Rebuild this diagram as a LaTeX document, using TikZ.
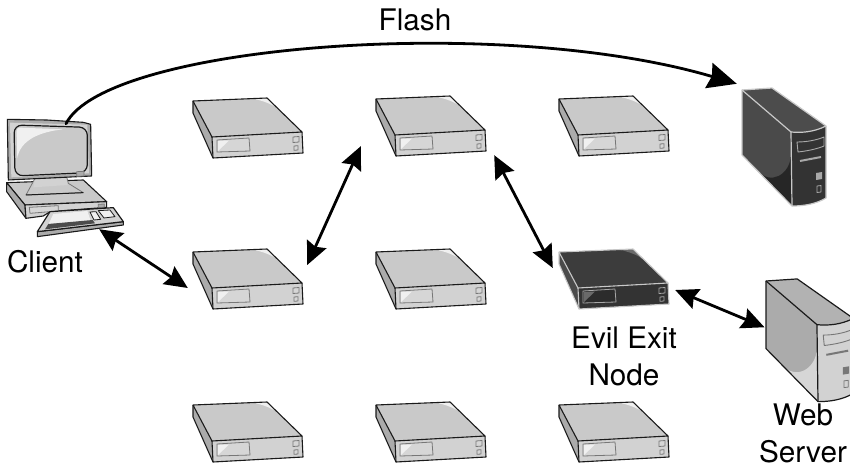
\documentclass[tikz,border=0pt]{standalone}
\usepackage{fontspec}
\setmainfont{TeX Gyre Heros}
\usetikzlibrary{arrows.meta,calc}
\definecolor{ltop}{HTML}{C9C9C9}
\definecolor{lfront}{HTML}{D2D2D2}
\definecolor{lside}{HTML}{ABABAB}
\definecolor{lline}{HTML}{1A1A1A}
\definecolor{lpanel}{HTML}{D6D6D6}
\definecolor{lglow}{HTML}{F0F0F0}
\definecolor{lshade}{HTML}{D6D6D6}
\definecolor{ltrim}{HTML}{777777}
\definecolor{ltowertop}{HTML}{B2B2B2}
\definecolor{dtop}{HTML}{3C3C3C}
\definecolor{dfront}{HTML}{333333}
\definecolor{dside}{HTML}{4A4A4A}
\definecolor{dline}{HTML}{C8C8C8}
\definecolor{dpanel}{HTML}{2C2C2C}
\definecolor{dglow}{HTML}{6A6A6A}
\definecolor{dshade}{HTML}{262626}
\definecolor{dtrim}{HTML}{A8A8A8}
\definecolor{dtowertop}{HTML}{4C4C4C}
\tikzset{
  bidir/.style={line width=2.8pt,{Stealth[length=23pt,width=21pt,inset=3pt]}-{Stealth[length=23pt,width=21pt,inset=3pt]}},
  uni/.style={line width=2.8pt,-{Stealth[length=29pt,width=26pt,inset=3pt]},line cap=round},
  label/.style={font=\fontsize{29.7}{37}\selectfont,align=center,inner sep=0pt,text=black},
  hitbox/.style={draw=none,fill=none,inner sep=0pt,minimum width=110pt,minimum height=60pt},
  towerbox/.style={draw=none,fill=none,inner sep=0pt,minimum width=84pt,minimum height=118pt},
  clientbox/.style={draw=none,fill=none,inner sep=0pt,minimum width=118pt,minimum height=120pt}
}
% name, x, y, scheme (l or d)
\newcommand{\serverbox}[4]{%
\begin{scope}[shift={(#2,#3)},line join=round]
  \fill[#4side] (0,0)--(19,36)--(20,57)--(0,12)--cycle;
  \fill[#4top] (0,0)--(74,-3)--(109,31)--(19,36)--cycle;
  \fill[#4glow] (60,-2.5)--(74,-3)--(86,9) .. controls (80,3) and (70,0) .. (60,-2.5)--cycle;
  \fill[#4front] (19,36)--(109,31)--(110,52)--(20,57)--cycle;
  \fill[#4panel,draw=#4trim,line width=.8pt] (24,39)--(56,37)--(57,50)--(24,51)--cycle;
  \fill[#4glow] (25,50)--(25,40)--(36,39.5)--cycle;
  \fill[#4panel,draw=#4trim,line width=.8pt] (100,36)--(106,35.5)--(106,41)--(100,41.5)--cycle;
  \fill[#4panel,draw=#4trim,line width=.8pt] (101,45)--(105,44.7)--(105,49)--(101,49.3)--cycle;
  \draw[#4line,line width=1.1pt] (0,0)--(74,-3)--(109,31)--(19,36)--cycle;
  \draw[#4line,line width=1.1pt] (0,0)--(0,12)--(20,57)--(110,52)--(109,31);
  \draw[#4line,line width=1.1pt] (19,36)--(20,57);
  \node[hitbox] (#1) at (55,27) {};
\end{scope}}
% name, x, y, scale, scheme
\newcommand{\towerbox}[5]{%
\begin{scope}[shift={(#2,#3)},scale=#4,line join=round]
  \fill[#5side] (0,0)--(49,42)--(50,116)--(0,65)--cycle;
  \fill[#5shade] (49,65) .. controls (48,85) and (28,96) .. (15,80)--(50,116)--cycle;
  \fill[#5towertop] (0,0)--(30,-2)--(84,36) .. controls (72,42) and (60,43) .. (49,42)--cycle;
  \fill[#5front] (49,42) .. controls (60,43) and (72,42) .. (84,36)--(84,108) .. controls (74,114) and (62,116) .. (50,116)--cycle;
  \draw[#5trim,line width=.9pt] (55,52) .. controls (65,52) and (75,50) .. (82,47)--(82,56) .. controls (75,59) and (65,61) .. (56,62)--cycle;
  \draw[#5trim,line width=2pt] (58,71)--(79,67);
  \fill[#5trim] (74,83)--(80,82)--(80,89)--(74,90)--cycle;
  \draw[#5trim,line width=.8pt] (75,96)--(79,95.5)--(79,102)--(75,102.5)--cycle;
  \draw[#5line,line width=1.2pt] (0,0)--(30,-2)--(84,36)--(84,108) .. controls (74,114) and (62,116) .. (50,116)--(0,65)--cycle;
  \draw[#5line,line width=1.2pt] (0,0)--(49,42)--(50,116);
  \draw[#5line,line width=1.2pt] (49,42) .. controls (60,43) and (72,42) .. (84,36);
  \node[towerbox] (#1) at (42,57) {};
\end{scope}}
\begin{document}
\begin{tikzpicture}[x=1pt,y=-1pt]
\useasboundingbox (0,0) rectangle (850,468);
\clip (0,0) rectangle (850,468);
% Client computer (coordinates: 3x zoom scale)
\begin{scope}[shift={(0,90)},x=0.3333pt,y=-0.3333pt,line join=round]
  % base unit
  \fill[ltop,draw=lline,line width=1.1pt] (20,278)--(250,270)--(320,335)--(75,345)--cycle;
  \fill[lside,draw=lline,line width=1.1pt] (20,278)--(75,345)--(78,385)--(20,305)--cycle;
  \fill[lfront,draw=lline,line width=1.1pt] (75,345)--(320,335)--(320,352)--(150,365)--(130,378)--(78,385)--cycle;
  \fill[lpanel,draw=ltrim,line width=.8pt] (88,352)--(175,347)--(175,363)--(90,370)--cycle;
  \fill[lside,draw=ltrim,line width=.8pt] (295,343)--(313,342)--(313,352)--(295,353)--cycle;
  % stand
  \fill[ltop,draw=ltrim,line width=.8pt] (105,265)--(200,260)--(205,280)--(250,308)--(78,315)--cycle;
  \fill[lfront] (105,268)--(198,264)--(203,285)--(100,292)--cycle;
  \draw[lline,line width=1pt] (78,315)--(250,308);
  % monitor
  \fill[lside,draw=lline,line width=1.1pt] (22,88)--(140,90)--(250,97)--(272,103)--(275,258)--(25,270)--cycle;
  \fill[lfront] (30,98)--(262,104)--(267,250)--(34,262)--cycle;
  \fill[ltop,draw=lline,line width=1.2pt,rounded corners=8pt] (42,105)--(262,112)--(262,248)--(45,258)--cycle;
  \fill[lglow] (52,205) .. controls (60,150) and (120,125) .. (190,118)--(60,113) .. controls (50,113) and (50,120) .. (50,130)--cycle;
  \fill[lside,draw=ltrim,line width=.7pt] (230,245)--(252,244)--(252,258)--(230,259)--cycle;
  % keyboard
  \fill[lside,draw=lline,line width=1.1pt] (112,425)--(370,395)--(370,405)--(112,440)--cycle;
  \fill[lfront,draw=lline,line width=1.2pt] (150,365)--(340,353)--(370,395)--(112,425)--cycle;
  \fill[lglow] (160,372)--(262,363)--(272,392)--(146,402)--cycle;
  \fill[black!70] (145,402)--(278,390)--(285,400)--(135,418)--cycle;
  \fill[lglow,draw=lline,line width=.8pt] (270,366)--(288,365)--(302,388)--(282,390)--cycle;
  \fill[lglow,draw=lline,line width=.8pt] (295,362)--(330,360)--(345,380)--(312,384)--cycle;
  \node[clientbox] (client) at (177,285) {};
\end{scope}
% Relay servers
\serverbox{s1a}{193}{101}{l}
\serverbox{s1b}{376}{99}{l}
\serverbox{s1c}{559}{99}{l}
\serverbox{s2a}{193}{252}{l}
\serverbox{s2b}{376}{252}{l}
\serverbox{exit}{559}{252}{d}
\serverbox{s3a}{193}{405}{l}
\serverbox{s3b}{376}{405}{l}
\serverbox{s3c}{559}{405}{l}
% Towers
\towerbox{flash}{742}{90}{1}{d}
\towerbox{web}{766}{281}{1.04}{l}
% Labels
\node[label] (lflash) at (415,20) {Flash};
\node[label] (lclient) at (45,262) {Client};
\node[label] (lexit) at (624,356) {Evil Exit\\Node};
\node[label] (lweb) at (803,433) {Web\\Server};
% Connectors
\draw[uni] ($(client.north)+(7,-1)$) .. controls (105,45) and (500,14) .. ($(flash.north west)+(-5,-4)$);
\draw[bidir] ($(client.south east)+(-19,-16)$) -- ($(s2a.west)+(-5,9)$);
\draw[bidir] ($(s2a.east)+(4,-14)$) -- ($(s1b.south west)+(-15,-10)$);
\draw[bidir] ($(s1b.south east)+(8,-1)$) -- ($(exit.west)+(-6,-11)$);
\draw[bidir] ($(exit.east)+(6,11)$) -- ($(web.west)+(-3,-13)$);
\end{tikzpicture}
\end{document}
